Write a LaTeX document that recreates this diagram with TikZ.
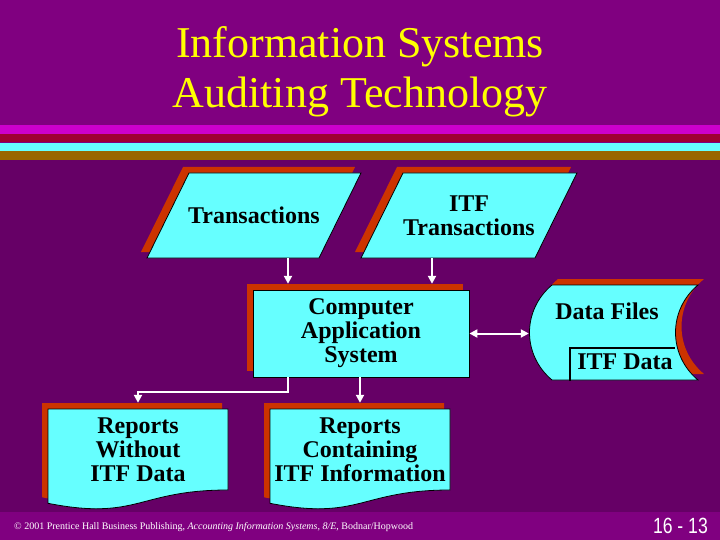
\documentclass[tikz,border=0pt]{standalone}
\usepackage{fontspec}
\setmainfont{Liberation Serif}
\newfontfamily\numfont[FakeStretch=0.8]{Liberation Sans}
\usetikzlibrary{arrows.meta,calc}
\definecolor{bgpurple}{HTML}{800080}
\definecolor{bgdark}{HTML}{660066}
\definecolor{stmag}{HTML}{CC00CC}
\definecolor{stred}{HTML}{9E0033}
\definecolor{stcyan}{HTML}{66FFFF}
\definecolor{stbrown}{HTML}{996600}
\definecolor{boxfill}{HTML}{66FFFF}
\definecolor{shadowc}{HTML}{CC3300}
\definecolor{titley}{HTML}{FFFF00}
\begin{document}
\begin{tikzpicture}[x=1pt,y=-1pt,
  front/.style={fill=boxfill,draw=black,line width=0.8pt},
  shade/.style={fill=shadowc},
  lbl/.style={font=\fontsize{24}{24}\selectfont\bfseries,align=center,text=black,inner sep=0pt},
  bound/.style 2 args={minimum width=#1pt,minimum height=#2pt,inner sep=0pt},
  arr/.style={draw=white,line width=2pt,-{Triangle[length=8pt,width=8pt]}},
  darr/.style={draw=white,line width=2pt,{Triangle[length=8pt,width=8pt]}-{Triangle[length=8pt,width=8pt]}},
  titletxt/.style={font=\fontsize{44}{50}\selectfont,text=titley,inner sep=0pt,anchor=base}
]
\useasboundingbox (0,0) rectangle (720,540);
% background
\fill[bgpurple] (0,0) rectangle (720,540);
\fill[bgdark] (0,160) rectangle (720,512);
\fill[stmag] (0,125) rectangle (720,134);
\fill[stred] (0,134) rectangle (720,142);
\fill[stcyan] (0,143) rectangle (720,151);
\fill[stbrown] (0,151) rectangle (720,160);
% title
\node[titletxt] (t1) at (360,58) {Information Systems};
\node[titletxt] (t2) at (360,108) {Auditing Technology};
% Transactions
\fill[shade] (183,167) -- (355,167) -- (313,252) -- (141,252) -- cycle;
\draw[front] (189,173) -- (361,173) -- (319,258) -- (147,258) -- cycle;
\node[lbl,bound={214}{85}] (trans) at (254,215.5) {Transactions};
% ITF Transactions
\fill[shade] (397,167) -- (571,167) -- (529,252) -- (355,252) -- cycle;
\draw[front] (403,173) -- (577,173) -- (535,258) -- (361,258) -- cycle;
\node[lbl,bound={216}{85}] (itft) at (469,215.5) {ITF\\Transactions};
% Computer application system
\node[shade,bound={216}{87}] (compsh) at (355,327.5) {};
\node[front,lbl,bound={216}{87}] (comp) at (361,333.5) {Computer\\Application\\System};
% Data files
\fill[shade] (558,279) -- (704,279) .. controls (674,304) and (674,349) .. (704,374) -- (558,374) .. controls (528,349) and (528,304) .. (558,279) -- cycle;
\draw[front] (552,285) -- (698,285) .. controls (668,310) and (668,355) .. (698,380) -- (552,380) .. controls (522,355) and (522,310) .. (552,285) -- cycle;
\node[bound={169}{95}] (data) at (613.5,332.5) {};
\node[lbl] (dfl) at (607,311) {Data Files};
\node[lbl] (itfd) at (625,362) {ITF Data};
\draw[black,line width=1.5pt] (570,381) -- (570,348) -- (675,348);
% Reports
\fill[shade] (42,403) -- (222,403) -- (222,484) .. controls (132,484) and (132,515) .. (42,497.3) -- cycle;
\draw[front] (48,409) -- (228,409) -- (228,490) .. controls (138,490) and (138,521) .. (48,503.3) -- cycle;
\node[lbl,bound={180}{81}] (rep1) at (138,449.5) {Reports\\Without\\ITF Data};
\fill[shade] (264,403) -- (444,403) -- (444,484) .. controls (354,484) and (354,515) .. (264,497.3) -- cycle;
\draw[front] (270,409) -- (450,409) -- (450,490) .. controls (360,490) and (360,521) .. (270,503.3) -- cycle;
\node[lbl,bound={180}{81}] (rep2) at (360,449.5) {Reports\\Containing\\ITF Information};
% connectors
\coordinate (c1) at (288,0);
\coordinate (c2) at (432,0);
\draw[arr] (trans.south -| c1) -- (compsh.north -| c1);
\draw[arr] (itft.south -| c2) -- (compsh.north -| c2);
\draw[darr] (comp.east) -- (comp.east -| data.west);
\draw[arr] (comp.south -| c1) -- ++(0,15) -| ([yshift=6pt]rep1.north);
\draw[arr] (comp.south -| rep2.north) -- ([yshift=6pt]rep2.north);
% footer
\node[anchor=base west,font=\fontsize{10}{12}\selectfont,text=white,inner sep=0pt] (foot) at (14,529) {© 2001 Prentice Hall Business Publishing, \textit{Accounting Information Systems, 8/E}, Bodnar/Hopwood};
\node[anchor=base east,font=\numfont\fontsize{22}{22}\selectfont,text=white,inner sep=0pt] (pg) at (708,533) {16 - 13};
\end{tikzpicture}
\end{document}
